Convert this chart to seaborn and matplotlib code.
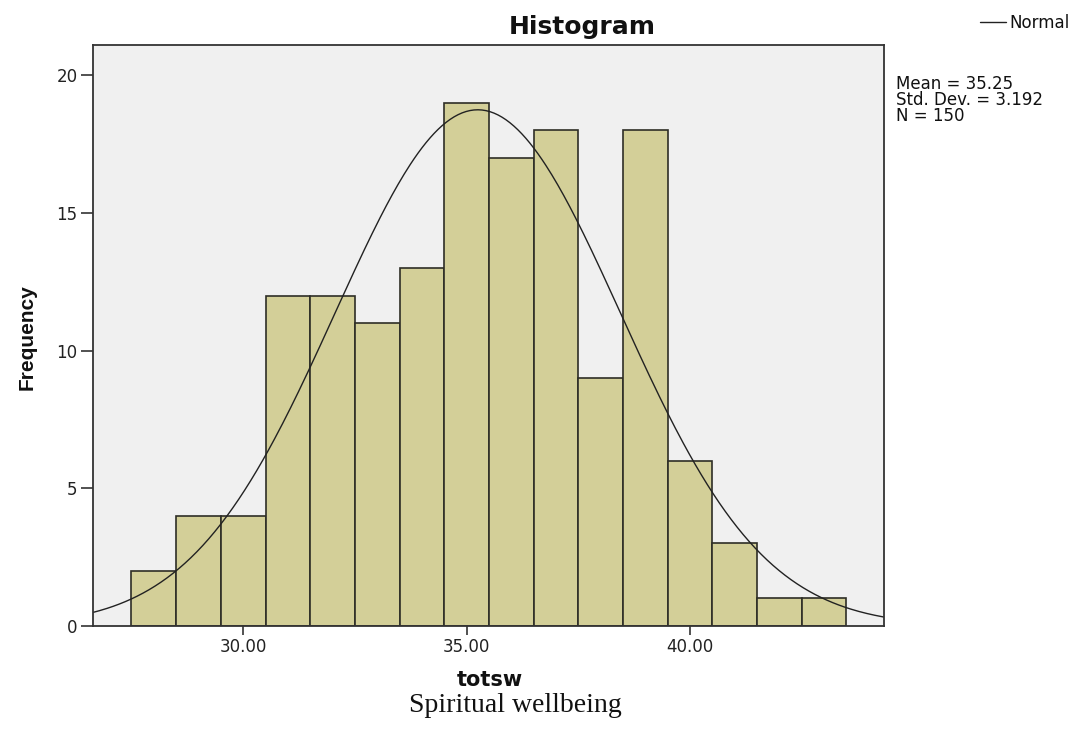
import numpy as np
import pandas as pd
import matplotlib
matplotlib.use("Agg")
import matplotlib.pyplot as plt
import seaborn as sns

# Data
bin_centers = [28, 29, 30, 31, 32, 33, 34, 35, 36, 37, 38, 39, 40, 41, 42, 43]
counts = [2, 4, 4, 12, 12, 11, 13, 19, 17, 18, 9, 18, 6, 3, 1, 1]
mean_val = 35.25
sd_val = 3.192
n_val = 150
x_ticks = [30, 35, 40]
x_ticklabels = ["30.00", "35.00", "40.00"]
y_ticks = [0, 5, 10, 15, 20]
stats_lines = ["Mean = 35.25", "Std. Dev. = 3.192", "N = 150"]

sns.set_theme(style="white")
plt.rcParams['font.family'] = ['DejaVu Sans']

W, H = 1075, 744
fig = plt.figure(figsize=(W / 100, H / 100), dpi=100)
ax = fig.add_axes([93 / W, 1 - 626 / H, (884 - 93) / W, (626 - 45) / H])
ax.set_facecolor("#F0F0F0")

df = pd.DataFrame({"totsw": bin_centers, "count": counts})
sns.histplot(data=df, x="totsw", weights="count", discrete=True, ax=ax,
             color="#D3CF98", alpha=1, edgecolor="#2e2e26", linewidth=1.2)

xs = np.linspace(26.6, 44.4, 400)
ys = n_val * 1.0 / (sd_val * np.sqrt(2 * np.pi)) * np.exp(-0.5 * ((xs - mean_val) / sd_val) ** 2)
sns.lineplot(x=xs, y=ys, ax=ax, color="#222222", linewidth=1.0)

ax.set_xlim(26.64, 44.34)
ax.set_ylim(0, 21.1)
ax.set_xticks(x_ticks)
ax.set_xticklabels(x_ticklabels)
ax.set_yticks(y_ticks)
ax.tick_params(axis='both', direction='out', width=1.2, color="#333333",
               labelsize=12, labelcolor="#222222", bottom=True, left=True)
ax.tick_params(axis='x', length=6.5, pad=2)
ax.tick_params(axis='y', length=9, pad=2)
for s in ax.spines.values():
    s.set_color("#333333")
    s.set_linewidth(1.3)

ax.set_xlabel("totsw", fontsize=15, fontweight="bold", color="#111111", va="center")
ax.xaxis.set_label_coords((490 - 93) / 791, -(680 - 626) / 581)
ax.set_ylabel("Frequency", fontsize=15, fontweight="bold",
              family="Liberation Sans", color="#111111", va="center")
ax.yaxis.set_label_coords(-(93 - 27) / 791, (626 - 337) / 581)
ax.set_title("")
fig.text(582 / W, 1 - 27 / H, "Histogram", fontsize=18, fontweight="bold",
         ha="center", va="center", color="#111111")

# Legend line + label
fig.add_artist(plt.Line2D([980 / W, 1006 / W], [1 - 22 / H, 1 - 22 / H],
                          color="#222222", linewidth=1.0))
fig.text(1009 / W, 1 - 23 / H, "Normal", fontsize=12, va="center", ha="left", color="#111111")

fig.text(896 / W, 1 - 75 / H, "\n".join(stats_lines), fontsize=12,
         va="top", ha="left", linespacing=0.86, color="#111111")

fig.text(515 / W, 1 - 705 / H, "Spiritual wellbeing", fontsize=20, family="Liberation Serif",
         ha="center", va="center", color="#111111")

fig.savefig("out.png", dpi=100)
